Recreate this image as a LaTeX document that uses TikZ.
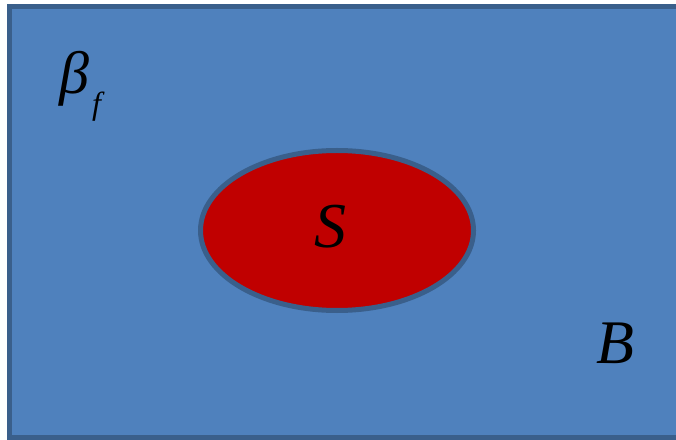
\documentclass[tikz,border=0pt]{standalone}
\usepackage{fontspec}
\setmainfont{Liberation Serif}
\definecolor{bgblue}{HTML}{4F81BD}
\definecolor{edgeblue}{HTML}{3A5F8B}
\definecolor{setred}{HTML}{C00000}
\tikzset{
  lbl/.style={font=\itshape, text=black, inner sep=0pt, anchor=base},
}
\begin{document}
\begin{tikzpicture}[x=1pt,y=1pt]
\useasboundingbox (0,0) rectangle (676,439);
\clip (0,0) rectangle (676,439);
\fill[white] (0,0) rectangle (676,439);
\draw[edgeblue, line width=5pt, fill=bgblue] (9,2) rectangle (690,432);
\draw[edgeblue, line width=5pt, fill=setred] (337,208.5) ellipse [x radius=136.5, y radius=80];
\node[lbl, font=\itshape\fontsize{60}{60}\selectfont] (beta) at (74,345) {β};
\node[lbl, font=\itshape\fontsize{32}{32}\selectfont, anchor=base west] (f) at (92,324) {f};
\node[lbl, font=\itshape\fontsize{64}{64}\selectfont] (S) at (330,191) {S};
\node[lbl, font=\itshape\fontsize{62}{62}\selectfont] (B) at (615,76) {B};
\end{tikzpicture}
\end{document}
